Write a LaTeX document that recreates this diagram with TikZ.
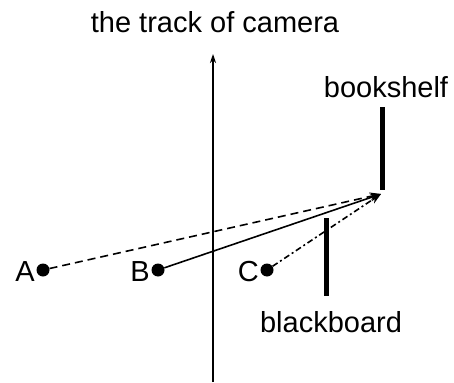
\documentclass[tikz,border=0pt]{standalone}
\usepackage{fontspec}
\setmainfont{Liberation Sans}
\usetikzlibrary{arrows.meta}
\begin{document}
\begin{tikzpicture}[x=1pt,y=-1pt,
  lbl/.style={inner sep=0pt,font=\fontsize{29}{32}\selectfont},
  dot/.style={circle,fill=black,inner sep=0pt,minimum size=13pt},
  bar/.style={fill=black,inner sep=0pt,minimum width=5.5pt},
  ray/.style={line width=1.6pt,-{Stealth[length=11pt,width=8pt]}}]
\useasboundingbox (0,0) rectangle (454,382);
\node[lbl] (title) at (215,22) {the track of camera};
\coordinate (axb) at (213,382);
\coordinate (axt) at (213,54);
\draw[line width=1.4pt,-{Stealth[length=9pt,width=6pt]}] (axb) -- (axt);
\node[lbl] (shelflbl) at (386,87) {bookshelf};
\node[bar,minimum height=83pt] (shelf) at (382.5,148.5) {};
\node[bar,minimum height=78pt] (board) at (326.5,257) {};
\node[lbl] (boardlbl) at (331,322) {blackboard};
\node[dot] (A) at (43,270) {};
\node[dot] (B) at (158,270) {};
\node[dot] (C) at (267,270) {};
\node[lbl,anchor=east] (Al) at (35,272) {A};
\node[lbl,anchor=east] (Bl) at (150,272) {B};
\node[lbl,anchor=east] (Cl) at (259,272) {C};
\coordinate (t) at (381,194);
\draw[ray,dash pattern=on 8pt off 5pt] (A) -- (t);
\draw[ray] (B) -- (t);
\draw[ray,dash pattern=on 6pt off 3pt on 2pt off 3pt] (C) -- (t);
\end{tikzpicture}
\end{document}
